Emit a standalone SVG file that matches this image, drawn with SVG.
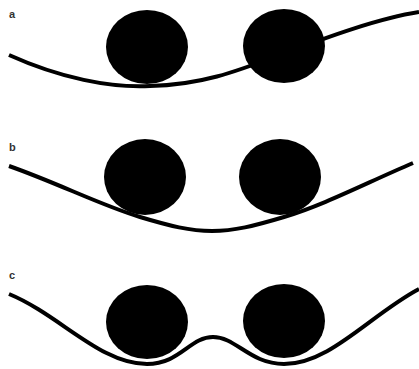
<svg xmlns="http://www.w3.org/2000/svg" width="419" height="369" viewBox="0 0 419 369">
<style>
.ball{fill:#000}
.curve{fill:none;stroke:#000;stroke-width:4;stroke-linecap:butt}
.lbl{font-family:"Liberation Sans",Arial,sans-serif;font-size:11px;font-weight:bold;fill:#333}
</style>
<rect width="419" height="369" fill="#fff"/>
<g id="connectors">
<path class="curve" d="M9,55 C60,78 110,88 150,86 C200,85 235,72 280,55 C330,36 380,18 419,12"/>
<path class="curve" d="M9,166 C60,184 100,205 140,217 C170,226 190,231 212,231 C234,231 254,226 284,217 C324,205 364,184 413,163"/>
<path class="curve" d="M9,294 C60,315 100,364 147,364 C180,364 190,337 213,337 C236,337 250,364 284,364 C330,364 370,315 419,289"/>
</g>
<g id="panel-a">
<text class="lbl" x="9" y="18">a</text>
<ellipse id="a-ball1" class="ball" cx="147" cy="47" rx="41" ry="37"/>
<ellipse id="a-ball2" class="ball" cx="284" cy="46" rx="41" ry="37"/>
</g>
<g id="panel-b">
<text class="lbl" x="9" y="151">b</text>
<ellipse id="b-ball1" class="ball" cx="145" cy="177" rx="41" ry="38"/>
<ellipse id="b-ball2" class="ball" cx="280" cy="177" rx="41" ry="38"/>
</g>
<g id="panel-c">
<text class="lbl" x="9" y="279">c</text>
<ellipse id="c-ball1" class="ball" cx="147" cy="322" rx="41" ry="37"/>
<ellipse id="c-ball2" class="ball" cx="284" cy="321" rx="41" ry="37"/>
</g>
</svg>
